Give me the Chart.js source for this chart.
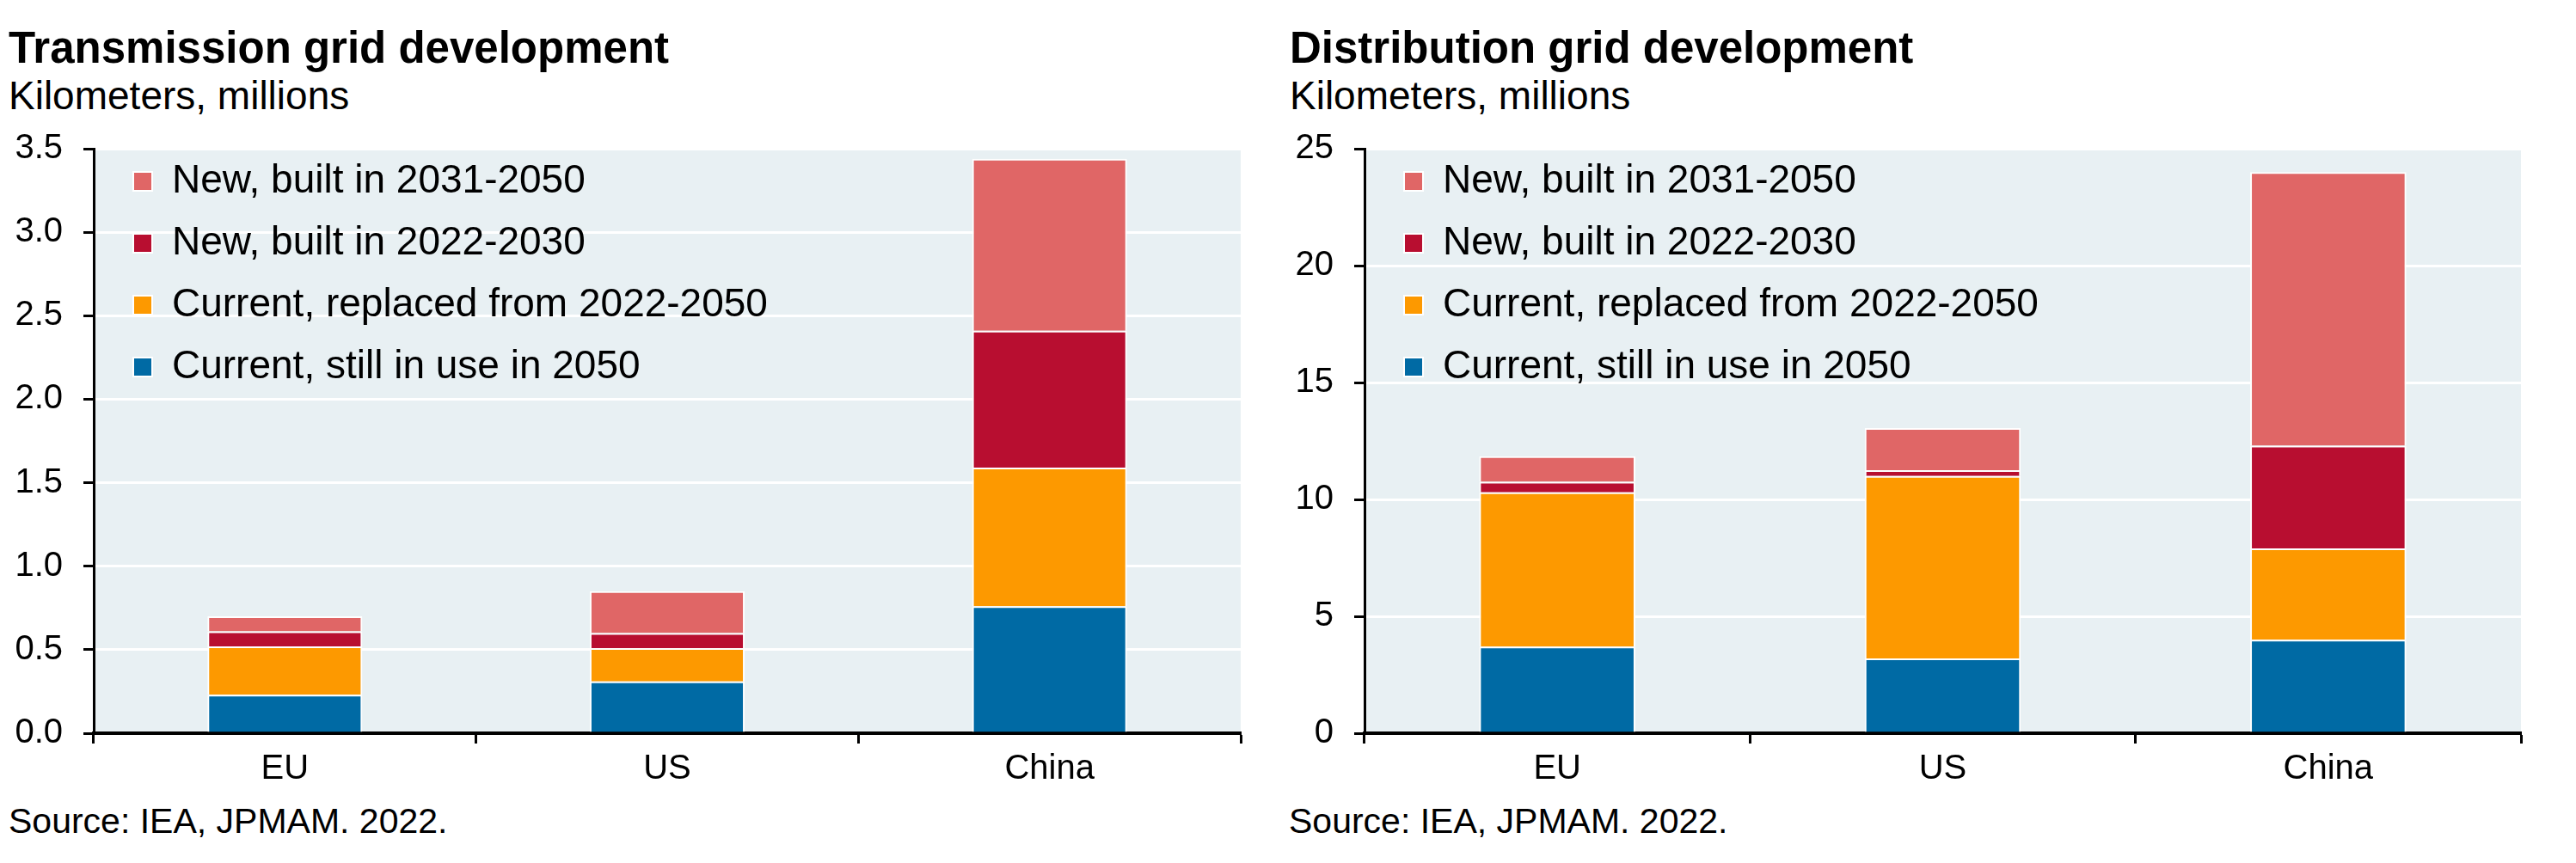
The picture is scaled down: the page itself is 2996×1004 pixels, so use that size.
<!DOCTYPE html>
<html lang="en">
<head>
<meta charset="UTF-8">
<title>Grid development</title>
<script src="https://cdn.jsdelivr.net/npm/chart.js"></script>
<style>
  html, body { margin: 0; padding: 0; background: #fff; }
  body { width: 2996px; height: 1004px; position: relative; overflow: hidden; font-family: "Liberation Sans", Arial, sans-serif; color: #000; }
  .title { position: absolute; font-size: 51px; font-weight: bold; line-height: 51px; white-space: nowrap; }
  .sub { position: absolute; font-size: 46px; line-height: 46px; white-space: nowrap; }
  .src { position: absolute; font-size: 41px; line-height: 41px; white-space: nowrap; }
  canvas { position: absolute; top: 0; }
</style>
</head>
<body>
<div class="title" style="left:10px; top:30px;">Transmission grid development</div>
<div class="sub" style="left:10px; top:88px;">Kilometers, millions</div>
<div class="src" style="left:10px; top:935px;">Source: IEA, JPMAM. 2022.</div>

<div class="title" style="left:1500px; top:30px;">Distribution grid development</div>
<div class="sub" style="left:1500px; top:88px;">Kilometers, millions</div>
<div class="src" style="left:1499px; top:935px;">Source: IEA, JPMAM. 2022.</div>

<canvas id="transChart" width="1480" height="1004" style="left:0px;"></canvas>
<canvas id="distChart" width="1516" height="1004" style="left:1480px;"></canvas>

<script>
const regions = ["EU", "US", "China"];
const seriesNames = [
  "Current, still in use in 2050",
  "Current, replaced from 2022-2050",
  "New, built in 2022-2030",
  "New, built in 2031-2050"
];
const seriesColors = ["#006AA4", "#FD9900", "#B80E30", "#E06666"];

// transmission, km millions
const transStill = [0.23, 0.31, 0.76];
const transReplaced = [0.29, 0.20, 0.83];
const transNew2030 = [0.09, 0.09, 0.82];
const transNew2050 = [0.09, 0.25, 1.03];
const transTicks = [0, 0.5, 1.0, 1.5, 2.0, 2.5, 3.0, 3.5];

// distribution, km millions
const distStill = [3.7, 3.2, 4.0];
const distReplaced = [6.6, 7.8, 3.9];
const distNew2030 = [0.45, 0.25, 4.4];
const distNew2050 = [1.1, 1.8, 11.7];
const distTicks = [0, 5, 10, 15, 20, 25];

Chart.defaults.font.family = '"Liberation Sans", Arial, sans-serif';
Chart.defaults.color = '#000';

const plotBg = {
  id: 'plotBg',
  beforeDraw(chart) {
    const a = chart.chartArea;
    const ctx = chart.ctx;
    ctx.save();
    ctx.fillStyle = '#E8F0F3';
    ctx.fillRect(a.left, a.top, a.right - a.left, a.bottom - a.top);
    ctx.restore();
  }
};

// vertical chartArea legends get top=0 from chart.js, so put it back inside the plot
const legendNudge = {
  id: 'legendNudge',
  afterLayout(chart, args, opts) {
    const a = chart.chartArea;
    chart.legend.left = a.left + (opts.dx || 0);
    chart.legend.top = a.top + (opts.dy || 0);
  }
};

function makeChart(id, seriesData, ticks, decimals, pad, axisW) {
  const datasets = seriesData.map((d, i) => ({
    label: seriesNames[i],
    data: d,
    backgroundColor: seriesColors[i],
    borderColor: '#ffffff',
    borderWidth: 2,
    barPercentage: 0.405,
    categoryPercentage: 1.0
  }));

  return new Chart(document.getElementById(id), {
    type: 'bar',
    data: { labels: regions, datasets: datasets },
    plugins: [plotBg, legendNudge],
    options: {
      responsive: false,
      animation: false,
      devicePixelRatio: 1,
      layout: { padding: pad },
      plugins: {
        legend: {
          position: 'chartArea',
          align: 'start',
          reverse: true,
          labels: {
            font: { size: 46 },
            boxWidth: 22,
            boxHeight: 22,
            padding: 26,
            color: '#000'
          }
        },
        legendNudge: { dx: 20, dy: -11 },
        tooltip: { enabled: false }
      },
      scales: {
        x: {
          stacked: true,
          grid: {
            drawOnChartArea: false,
            offset: true,
            tickColor: '#000',
            tickLength: 12,
            tickWidth: 3
          },
          border: { color: '#000', width: 4 },
          ticks: { font: { size: 40 }, padding: 6, color: '#000' },
          afterFit(scale) { scale.height = 80; }
        },
        y: {
          stacked: true,
          min: ticks[0],
          max: ticks[ticks.length - 1],
          afterBuildTicks(scale) { scale.ticks = ticks.map(v => ({ value: v })); },
          grid: {
            color: '#ffffff',
            lineWidth: 3,
            tickColor: '#000',
            tickLength: 12,
            tickWidth: 3
          },
          border: { color: '#000', width: 3 },
          ticks: {
            font: { size: 40 },
            padding: 24,
            color: '#000',
            callback: v => Number(v).toFixed(decimals)
          },
          afterFit(scale) { scale.width = axisW; }
        }
      }
    }
  });
}

makeChart('transChart',
  [transStill, transReplaced, transNew2030, transNew2050],
  transTicks, 1,
  { left: 0, right: 37, top: 173, bottom: 71 }, 109);

makeChart('distChart',
  [distStill, distReplaced, distNew2030, distNew2050],
  distTicks, 0,
  { left: 0, right: 64, top: 173, bottom: 71 }, 107);
</script>
</body>
</html>
